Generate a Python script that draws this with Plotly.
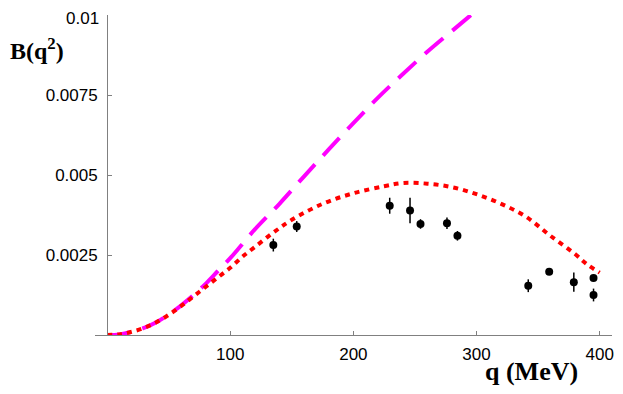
import plotly.graph_objects as go

# magenta dashed curve (clipped at the top of the frame)
q_dash = [0, 10, 20, 30, 40, 50, 60, 70, 80, 90, 100, 120, 140, 160, 180,
          200, 220, 240, 260, 280, 300, 310]
b_dash = [0, 0.00002, 0.0001, 0.00022, 0.0004, 0.00064, 0.00092, 0.00124, 0.0016,
          0.002, 0.0024, 0.0033, 0.0041, 0.00496, 0.0058, 0.00662, 0.00742,
          0.00815, 0.00885, 0.0095, 0.01015, 0.0105]

# red dotted curve
q_dot = [0, 10, 20, 30, 40, 50, 60, 70, 80, 90, 100, 110, 120, 135, 150, 175,
         200, 225, 240, 260, 280, 300, 320, 340, 360, 380, 390, 400]
b_dot = [0, 0.00002, 0.0001, 0.00022, 0.0004, 0.00063, 0.0009, 0.0012, 0.0015,
         0.0018, 0.0021, 0.00245, 0.00275, 0.0032, 0.0036, 0.0041, 0.00443,
         0.00465, 0.00475, 0.00473, 0.00462, 0.0044, 0.0041, 0.0037, 0.0031,
         0.00253, 0.0022, 0.00195]

# data points
q_data = [135, 154, 229.5, 246, 254.5, 276, 284.5, 342, 359, 379, 395, 395]
b_data = [0.00281, 0.00339, 0.00404, 0.00389, 0.00347, 0.00349, 0.0031,
          0.00154, 0.00198, 0.00165, 0.00178, 0.00125]
b_err = [0.0002, 0.00017, 0.00025, 0.0004, 0.00015, 0.00018, 0.00015,
         0.0002, 0.00005, 0.0003, 0.00005, 0.0002]

x_ticks = [100, 200, 300, 400]
y_ticks = [0.0025, 0.005, 0.0075, 0.01]
y_labels = ["0.0025", "0.005", "0.0075", ""]  # top label drawn as annotation
top_label = "0.01"

fig = go.Figure()

fig.add_trace(go.Scatter(
    x=q_dash, y=b_dash, mode='lines', line_shape='spline',
    line=dict(color='#ff00ff', width=4, dash='24px,12px'),
    showlegend=False
))
fig.add_trace(go.Scatter(
    x=q_dot, y=b_dot, mode='lines', line_shape='spline',
    line=dict(color='#ff0000', width=4, dash='5px,5px'),
    showlegend=False
))
fig.add_trace(go.Scatter(
    x=q_data, y=b_data, mode='markers',
    marker=dict(color='black', size=8),
    error_y=dict(type='data', array=b_err, color='black', thickness=1.5, width=0),
    showlegend=False
))

axis_font = dict(family='Liberation Sans, Arial', size=17, color='black')

# the page body adds an 8px offset, so the figure is 8px smaller than the window
fig.update_layout(
    width=615, height=386,
    margin=dict(l=87, r=11, t=7, b=59),
    plot_bgcolor='white', paper_bgcolor='white',
    xaxis=dict(
        range=[-9.8, 410], tickvals=x_ticks, ticks='inside', ticklen=4,
        tickcolor='#808080', showline=True, linecolor='#808080', linewidth=1,
        showgrid=False, zeroline=False, tickfont=axis_font, automargin=False,
        ticklabelstandoff=4, ticklabeloverflow='allow'
    ),
    yaxis=dict(
        range=[0, 0.010001], tickvals=y_ticks, ticktext=y_labels, ticks='inside',
        ticklen=4, tickcolor='#808080', showline=True, linecolor='#808080',
        linewidth=1, showgrid=False, zeroline=False, tickfont=axis_font,
        anchor='free', position=0.0234, automargin=False, ticklabelstandoff=6,
        ticklabeloverflow='allow'
    ),
    annotations=[
        dict(text=top_label, xref='paper', yref='paper',
             x=0.0105, y=1.0219, xanchor='right', yanchor='top', showarrow=False,
             borderpad=0, font=axis_font),
        dict(text='<b>B(q<sup>2</sup>)</b>', xref='paper', yref='paper',
             x=-0.168, y=0.895, xanchor='left', yanchor='middle', showarrow=False,
             font=dict(family='Liberation Serif, Times New Roman', size=24, color='black')),
        dict(text='<b>q (MeV)</b>', xref='paper', yref='paper',
             x=0.845, y=-0.115, xanchor='center', yanchor='middle', showarrow=False,
             font=dict(family='Liberation Serif, Times New Roman', size=26, color='black')),
    ],
)

fig.write_html("out.html")
